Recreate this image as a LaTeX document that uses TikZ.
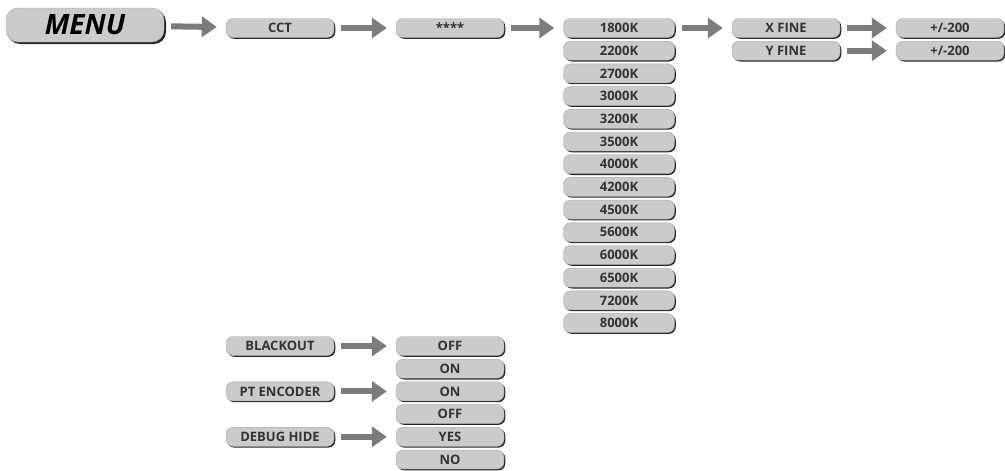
\documentclass[tikz,border=0pt]{standalone}
\usepackage{fontspec}
\setmainfont{Open Sans}
\usetikzlibrary{
  positioning,
  arrows.meta,
  shadows,
}
\definecolor{boxFill}{HTML}{CBCBCB}
\definecolor{boxEdge}{HTML}{A8A8A8}
\definecolor{arrowCol}{HTML}{7C7C7C}
\definecolor{textMain}{HTML}{333333}
\tikzset{
  menubox/.style={
    rectangle, rounded corners=7pt, fill=boxFill, draw=boxEdge,
    minimum width=108pt, minimum height=19pt, inner sep=0pt,
    font=\fontsize{13}{14}\selectfont\bfseries, text=textMain, line width=0.4pt,
    drop shadow={shadow xshift=1.3pt, shadow yshift=-1.3pt, fill=black!85, opacity=1},
  },
  topbox/.style={
    menubox, rounded corners=12pt, minimum width=158pt, minimum height=34pt,
    font=\fontsize{28}{30}\selectfont\bfseries\itshape, text=black,
    drop shadow={shadow xshift=2pt, shadow yshift=-2pt, fill=black!85, opacity=1},
  },
  arrow/.style={-{Triangle[length=15pt, width=20pt]}, arrowCol, line width=6pt,
    shorten <=7pt, shorten >=9pt},
}

\begin{document}
\begin{tikzpicture}[x=1pt, y=-1pt]
  \useasboundingbox (0,0) rectangle (1005,471);

  % Top row
  \node[topbox] (menu) at (85,25) {MENU};
  \node[menubox] (cct) at (280,28) {CCT};
  \node[menubox] (stars) at (450,28) {****};

  % Colour temperatures
  \node[menubox, minimum width=111pt] (k1800) at (619,28.0) {1800K};
  \node[menubox, minimum width=111pt] (k2200) at (619,50.7) {2200K};
  \node[menubox, minimum width=111pt] (k2700) at (619,73.4) {2700K};
  \node[menubox, minimum width=111pt] (k3000) at (619,96.1) {3000K};
  \node[menubox, minimum width=111pt] (k3200) at (619,118.8) {3200K};
  \node[menubox, minimum width=111pt] (k3500) at (619,141.5) {3500K};
  \node[menubox, minimum width=111pt] (k4000) at (619,164.2) {4000K};
  \node[menubox, minimum width=111pt] (k4200) at (619,186.9) {4200K};
  \node[menubox, minimum width=111pt] (k4500) at (619,209.6) {4500K};
  \node[menubox, minimum width=111pt] (k5600) at (619,232.3) {5600K};
  \node[menubox, minimum width=111pt] (k6000) at (619,255.0) {6000K};
  \node[menubox, minimum width=111pt] (k6500) at (619,277.7) {6500K};
  \node[menubox, minimum width=111pt] (k7200) at (619,300.4) {7200K};
  \node[menubox, minimum width=111pt] (k8000) at (619,323.1) {8000K};

  % Fine tuning
  \node[menubox] (xfine) at (786,28) {X FINE};
  \node[menubox] (yfine) at (786,50.7) {Y FINE};
  \node[menubox] (xval) at (950,28) {+/-200};
  \node[menubox] (yval) at (950,50.7) {+/-200};

  % Bottom group
  \node[menubox] (blackout) at (280,346) {BLACKOUT};
  \node[menubox] (ptenc) at (280,391.4) {PT ENCODER};
  \node[menubox] (debug) at (280,436.8) {DEBUG HIDE};
  \node[menubox] (boff) at (450,346) {OFF};
  \node[menubox] (bon) at (450,368.7) {ON};
  \node[menubox] (pon) at (450,391.4) {ON};
  \node[menubox] (poff) at (450,414.1) {OFF};
  \node[menubox] (dyes) at (450,436.8) {YES};
  \node[menubox] (dno) at (450,459.5) {NO};

  \draw[arrow] (menu) -- (cct);
  \draw[arrow] (cct) -- (stars);
  \draw[arrow] (stars) -- (k1800);
  \draw[arrow] (k1800) -- (xfine);
  \draw[arrow] (xfine) -- (xval);
  \draw[arrow] (yfine) -- (yval);
  \draw[arrow] (blackout) -- (boff);
  \draw[arrow] (ptenc) -- (pon);
  \draw[arrow] (debug) -- (dyes);

\end{tikzpicture}
\end{document}
